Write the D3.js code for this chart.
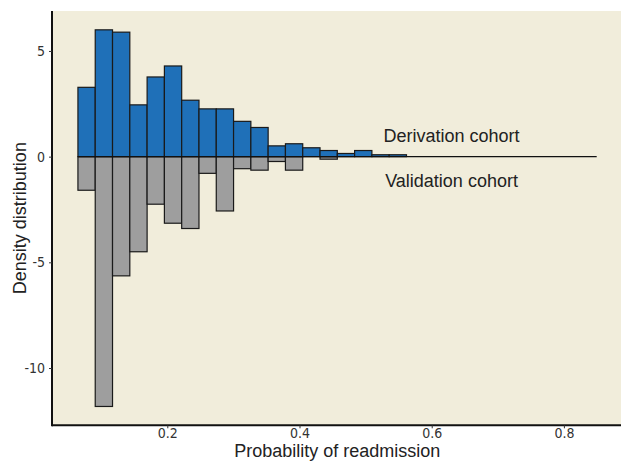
<!DOCTYPE html>
<html>
<head>
<meta charset="utf-8">
<script src="https://cdn.jsdelivr.net/npm/d3@7"></script>
<style>
  body { margin: 0; background: #fff; }
  .tick-lab { font-family: "DejaVu Sans Condensed", "DejaVu Sans", sans-serif; font-stretch: condensed; font-size: 14px; fill: #333; }
  .title-lab { font-family: "Liberation Sans", Arial, sans-serif; font-size: 18px; fill: #222; }
</style>
</head>
<body>
<div id="chart"></div>
<script>
// histogram bins (probability of readmission)
var binStart = 0.0648;
var binWidth = 0.02616;
var binCount = 30;

// density per bin, derivation cohort (drawn upward)
var derivation = [3.28, 6.0, 5.89, 2.45, 3.77, 4.29, 2.67, 2.26, 2.26, 1.67,
                  1.38, 0.51, 0.61, 0.42, 0.29, 0.15, 0.29, 0.09, 0.09, 0,
                  0, 0, 0, 0, 0, 0, 0, 0, 0, 0];
// density per bin, validation cohort (drawn downward)
var validation = [-1.59, -11.82, -5.64, -4.50, -2.25, -3.15, -3.40, -0.79, -2.57, -0.57,
                  -0.64, -0.23, -0.64, 0, -0.12, 0, 0, 0, 0, 0,
                  0, 0, 0, 0, 0, 0, 0, 0, 0, 0];

var xTicks = [0.2, 0.4, 0.6, 0.8];
var yTicks = [5, 0, -5, -10];
var labels = [{text: "Derivation cohort", x: 0.63, y: 1}, {text: "Validation cohort", x: 0.63, y: -1.15}];

var width = 621, height = 462;
var margin = {top: 11, left: 52, bottom: 36.7};

var svg = d3.select("#chart").append("svg")
  .attr("width", width)
  .attr("height", height);

var binEnd = binStart + binCount * binWidth;
var xPad = 0.05 * (binEnd - binStart);
var x = d3.scaleLinear()
  .domain([binStart - xPad, binEnd + xPad])
  .range([margin.left, margin.left + (binEnd - binStart + 2 * xPad) * 661]);

var yMin = d3.min(validation), yMax = d3.max(derivation);
var yPad = 0.05 * (yMax - yMin);
var y = d3.scaleLinear()
  .domain([yMin - yPad, yMax + yPad])
  .range([height - margin.bottom, margin.top]);

// panel background
svg.append("rect")
  .attr("x", x.range()[0])
  .attr("y", margin.top)
  .attr("width", x.range()[1] - x.range()[0])
  .attr("height", height - margin.bottom - margin.top)
  .attr("fill", "#f1eddb");

function bars(values, color) {
  var d = values.map(function(v, i) { return {i: i, v: v}; })
    .filter(function(d) { return d.v !== 0; });
  svg.append("g").selectAll("rect")
    .data(d)
    .enter()
    .append("rect")
    .attr("x", function(d) { return x(binStart + d.i * binWidth); })
    .attr("width", function(d) { return x(binStart + (d.i + 1) * binWidth) - x(binStart + d.i * binWidth); })
    .attr("y", function(d) { return Math.min(y(d.v), y(0)); })
    .attr("height", function(d) { return Math.abs(y(d.v) - y(0)); })
    .attr("fill", color)
    .attr("stroke", "#1a1a1a")
    .attr("stroke-width", 1.2);
}

bars(validation, "#9e9e9e");
bars(derivation, "#1f70b8");

// zero line across all bins
svg.append("line")
  .attr("x1", x(binStart)).attr("x2", x(binEnd))
  .attr("y1", y(0)).attr("y2", y(0))
  .attr("stroke", "#111")
  .attr("stroke-width", 1.3);

// axes
var yAxis = svg.append("g")
  .attr("transform", "translate(" + margin.left + ",0)")
  .call(d3.axisLeft(y).tickValues(yTicks).tickSize(3).tickPadding(4).tickFormat(function(d) { return String(d); }));
var xAxis = svg.append("g")
  .attr("transform", "translate(0," + (height - margin.bottom) + ")")
  .call(d3.axisBottom(x).tickValues(xTicks).tickSize(3).tickPadding(0).tickFormat(function(d) { return d.toFixed(1); }));

[xAxis, yAxis].forEach(function(a) {
  a.select(".domain").attr("stroke", "#111").attr("stroke-width", 2);
  a.selectAll(".tick line").attr("stroke", "#333");
  a.selectAll(".tick text").attr("class", "tick-lab").attr("fill", null);
});
xAxis.select(".domain").attr("d", "M" + margin.left + ",0H" + width);
yAxis.select(".domain").attr("d", "M0," + margin.top + "V" + (height - margin.bottom + 1));

// annotations
svg.selectAll(".anno")
  .data(labels)
  .enter()
  .append("text")
  .attr("class", "title-lab")
  .attr("x", function(d) { return x(d.x); })
  .attr("y", function(d) { return y(d.y) + 6.5; })
  .attr("text-anchor", "middle")
  .text(function(d) { return d.text; });

// axis titles
svg.append("text")
  .attr("class", "title-lab")
  .attr("x", (x.range()[0] + x.range()[1]) / 2)
  .attr("y", 457)
  .attr("text-anchor", "middle")
  .text("Probability of readmission");

svg.append("text")
  .attr("class", "title-lab")
  .attr("transform", "translate(26," + ((margin.top + height - margin.bottom) / 2) + ") rotate(-90)")
  .attr("text-anchor", "middle")
  .text("Density distribution");
</script>
</body>
</html>
